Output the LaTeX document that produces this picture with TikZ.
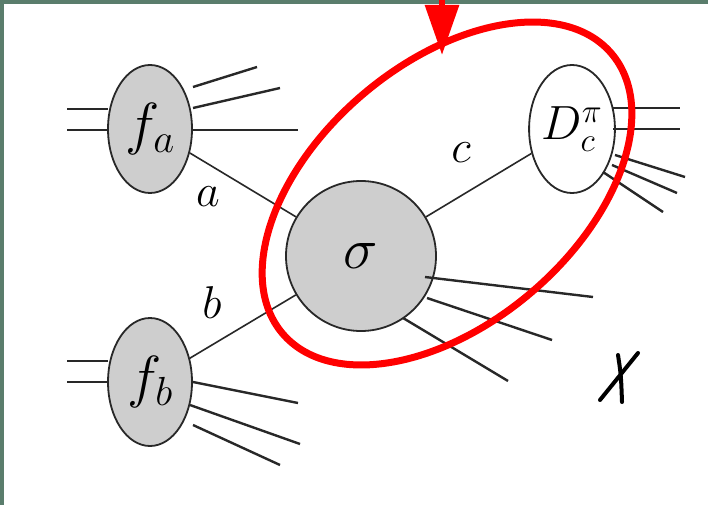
\RequirePackage{fix-cm}
\documentclass[tikz,border=0pt]{standalone}
\usepackage{xcolor}
\usepackage{tikz}
\usetikzlibrary{shapes.geometric, arrows.meta}
\definecolor{DiagGray}{RGB}{206,206,206}
\definecolor{DiagLine}{RGB}{40,40,40}
\definecolor{DiagFrame}{RGB}{90,125,108}
\definecolor{MarkRed}{RGB}{255,0,0}

\tikzset{
  blob/.style={ellipse, draw=DiagLine, line width=1.8pt, fill=DiagGray,
    minimum width=84pt, minimum height=128pt, inner sep=0pt},
  hard/.style={circle, draw=DiagLine, line width=1.8pt, fill=DiagGray,
    minimum size=150pt, inner sep=0pt},
  leg/.style={draw=DiagLine, line width=2.4pt},
  prop/.style={draw=DiagLine, line width=1.6pt},
  lbl/.style={inner sep=0pt, font=\fontsize{46}{48}\selectfont},
}

\begin{document}
\begin{tikzpicture}[x=1pt, y=1pt]
    \path[use as bounding box] (0,0) rectangle (708,-505);
    \fill[white] (0,0) rectangle (708,-505);
    \fill[DiagFrame] (0,0) rectangle (4,-505);
    \fill[DiagFrame] (0,0) rectangle (708,-4);

    \node[blob] (fa) at (150,-129) {\fontsize{58}{60}\selectfont$f_a$};
    \node[blob] (fb) at (150,-382) {\fontsize{58}{60}\selectfont$f_b$};
    \node[blob, fill=white] (Dc) at (572,-129) {\fontsize{48}{50}\selectfont$D_c^\pi$};
    \node[hard] (sigma) at (361,-256) {\fontsize{58}{60}\selectfont$\sigma$};

    \draw[prop] (fa) -- (sigma);
    \draw[prop] (fb) -- (sigma);
    \draw[prop] (Dc) -- (sigma);

    \node[lbl] (la) at (208,-197) {$a$};
    \node[lbl] (lb) at (212,-303) {$b$};
    \node[lbl] (lc) at (461,-153) {$c$};

    \draw[leg] ([shift={(-42,20)}]fa.center) -- ++(-41,0);
    \draw[leg] ([shift={(-42,-1)}]fa.center) -- ++(-41,0);
    \draw[leg] ([shift={(43,42)}]fa.center) -- ++(64,20);
    \draw[leg] ([shift={(43,21)}]fa.center) -- ++(87,20);
    \draw[leg] ([shift={(43,-1)}]fa.center) -- ++(105,0);

    \draw[leg] ([shift={(-42,21)}]fb.center) -- ++(-41,0);
    \draw[leg] ([shift={(-42,0)}]fb.center) -- ++(-41,0);
    \draw[leg] ([shift={(43,0)}]fb.center) -- ++(105,-21);
    \draw[leg] ([shift={(40,-23)}]fb.center) -- ++(110,-39);
    \draw[leg] ([shift={(43,-43)}]fb.center) -- ++(87,-40);

    \draw[leg] ([shift={(41,21)}]Dc.center) -- ++(67,0);
    \draw[leg] ([shift={(41,0)}]Dc.center) -- ++(67,0);
    \draw[leg] ([shift={(43,-26)}]Dc.center) -- ++(70,-22);
    \draw[leg] ([shift={(40,-36)}]Dc.center) -- ++(65,-28);
    \draw[leg] ([shift={(31,-43)}]Dc.center) -- ++(60,-40);

    \draw[leg] ([shift={(64,-21)}]sigma.center) -- ++(168,-20);
    \draw[leg] ([shift={(66,-42)}]sigma.center) -- ++(125,-42);
    \draw[leg] ([shift={(42,-62)}]sigma.center) -- ++(105,-63);

    \draw[MarkRed, line width=7pt, rotate around={40.4:(447,-193.5)}]
      (447,-193.5) ellipse (216 and 130);
    \draw[MarkRed, line width=6pt, -{Triangle[width=33pt, length=50pt]}]
      (442,0) -- (442,-55);

    \draw[black, line width=4pt, line cap=round]
      (618,-355) .. controls (621,-375) .. (622,-402);
    \draw[black, line width=4pt, line cap=round] (638,-353) -- (600,-400);
\end{tikzpicture}
\end{document}
